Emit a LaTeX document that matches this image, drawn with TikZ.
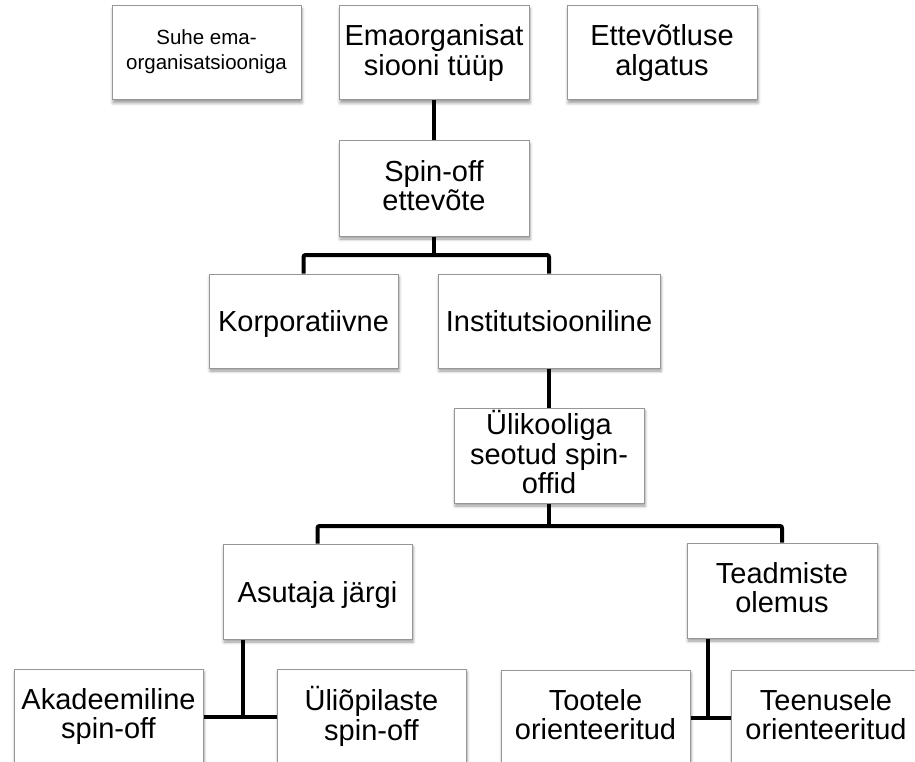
\documentclass[tikz,border=0pt]{standalone}
\usepackage{fontspec}
\setmainfont{Liberation Sans}
\usetikzlibrary{shadows.blur}
\definecolor{boxgray}{RGB}{150,150,150}
\begin{document}
\begin{tikzpicture}[x=1pt,y=-1pt,
  box/.style={draw=boxgray, line width=1pt, fill=white, inner sep=0pt,
    align=center, minimum width=190pt, minimum height=95pt,
    font=\fontsize{29}{29.5}\selectfont,
    execute at begin node={\rule{0pt}{28pt}},
    execute at end node={\rule[-6.5pt]{0pt}{6.5pt}},
    blur shadow={shadow xshift=1pt, shadow yshift=-3pt,
      shadow blur radius=3pt, shadow opacity=40}},
  smallbox/.style={box, font=\fontsize{20.5}{25}\selectfont,
    execute at begin node={\rule{0pt}{19.8pt}},
    execute at end node={\rule[-6.8pt]{0pt}{6.8pt}}},
  link/.style={line width=4pt, rounded corners=2pt}]
\useasboundingbox (0,0) rectangle (915,762);
\clip (0,0) rectangle (915,762);

% top row
\node[smallbox, minimum width=189pt, minimum height=94pt] (suhe) at (206.5,53) {Suhe ema-\\organisatsiooniga};
\node[box, minimum height=94pt] (ema) at (434,53) {Emaorganisat\\siooni tüüp};
\node[box, minimum height=94pt] (algatus) at (662,53) {Ettevõtluse\\algatus};

% spin-off and its two kinds
\node[box] (spin) at (434,188.5) {Spin-off\\ettevõte};
\node[box, minimum width=189pt, minimum height=94pt] (korp) at (303.5,321) {Korporatiivne};
\node[box, minimum width=222pt, minimum height=94pt] (inst) at (549,321) {Institutsiooniline};

% university spin-offs
\node[box] (uli) at (549,455.5) {Ülikooliga\\seotud spin-\\offid};
\node[box, minimum width=189pt] (asut) at (317.5,591.5) {Asutaja järgi};
\node[box] (tead) at (782,590.5) {Teadmiste\\olemus};

% bottom row
\node[box, minimum width=189pt] (akad) at (108.5,716.5) {Akadeemiline\\spin-off};
\node[box, minimum width=189pt] (uliop) at (371.5,716.5) {Üliõpilaste\\spin-off};
\node[box, minimum width=189pt] (toot) at (595.5,717.5) {Tootele\\orienteeritud};
\node[box] (teen) at (826,717.5) {Teenusele\\orienteeritud};

% connectors
\coordinate (j1) at (434,255);
\coordinate (j2) at (549,526);
\coordinate (hubA) at (243,717);
\coordinate (hubT) at (708,718);

\draw[link] (ema.south) -- (spin.north);
\draw[link] (spin.south) -- (j1);
\draw[link] (korp.north) |- (j1) -| (inst.north);
\draw[link] (inst.south) -- (uli.north);
\draw[link] (uli.south) -- (j2);
\draw[link] (asut.north) |- (j2) -| (tead.north);
\draw[link] (asut.south -| hubA) -- (hubA);
\draw[link] (akad.east |- hubA) -- (uliop.west |- hubA);
\draw[link] (tead.south -| hubT) -- (hubT);
\draw[link] (toot.east |- hubT) -- (teen.west |- hubT);
\end{tikzpicture}
\end{document}
